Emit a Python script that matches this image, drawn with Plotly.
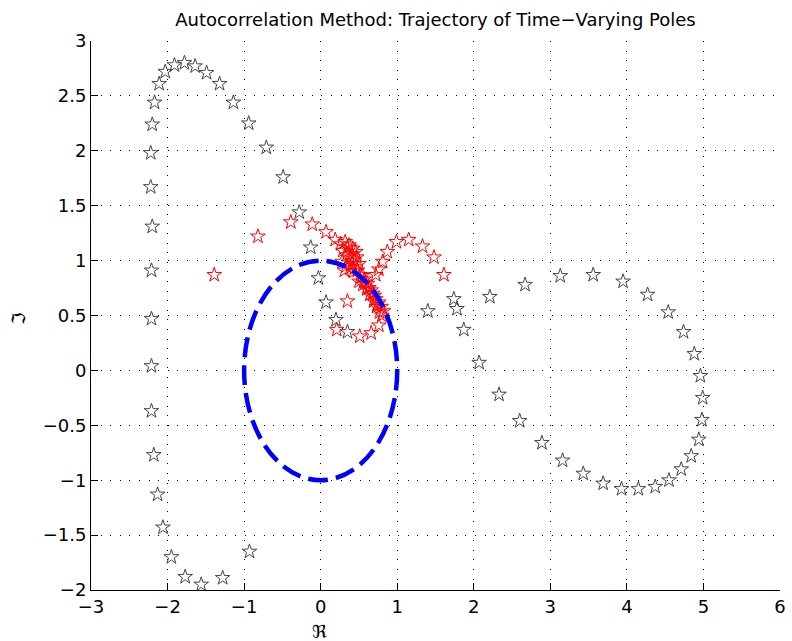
import plotly.graph_objects as go

# Pole locations of the first (long) trajectory: real and imaginary parts
gray_re = [-0.93, -1.28, -1.56, -1.77, -1.95, -2.06, -2.13, -2.18, -2.21, -2.21,
           -2.21, -2.21, -2.20, -2.22, -2.22, -2.20, -2.17, -2.11, -2.03, -1.91,
           -1.78, -1.64, -1.49, -1.32, -1.14, -0.94, -0.71, -0.49, -0.28, -0.13,
           -0.03, 0.07, 0.20, 0.35,
           1.40, 1.74, 1.78, 1.87, 2.07, 2.33, 2.60, 2.89, 3.16, 3.43,
           3.69, 3.93, 4.15, 4.37, 4.55, 4.71, 4.84, 4.94, 4.98, 4.99,
           4.96, 4.88, 4.74, 4.54, 4.27, 3.95, 3.56, 3.13, 2.67, 2.21]
gray_im = [-1.65, -1.89, -1.95, -1.88, -1.70, -1.43, -1.13, -0.77, -0.37, 0.04,
           0.47, 0.91, 1.31, 1.67, 1.98, 2.24, 2.44, 2.61, 2.72, 2.78,
           2.80, 2.77, 2.71, 2.61, 2.44, 2.25, 2.03, 1.76, 1.44, 1.12,
           0.84, 0.62, 0.46, 0.35,
           0.54, 0.65, 0.56, 0.37, 0.07, -0.22, -0.46, -0.66, -0.82, -0.94,
           -1.03, -1.08, -1.08, -1.06, -1.00, -0.90, -0.78, -0.63, -0.45, -0.25,
           -0.05, 0.15, 0.35, 0.53, 0.69, 0.81, 0.87, 0.86, 0.78, 0.67]

# Pole locations of the second trajectory
red_re = [-1.39, -0.82, -0.39, -0.11, 0.07, 0.19,
          0.26, 0.32, 0.37, 0.42, 0.46, 0.29, 0.34, 0.39, 0.44, 0.50,
          0.28, 0.33, 0.31, 0.38, 0.43, 0.48,
          0.35, 0.41, 0.47, 0.46, 0.41,
          0.52, 0.57, 0.50, 0.55, 0.61, 0.60, 0.66, 0.64, 0.70, 0.69,
          0.54, 0.58, 0.63, 0.68, 0.72, 0.74,
          0.76, 0.73, 0.79, 0.77, 0.82,
          0.80, 0.76, 0.66, 0.51, 0.21, 0.35,
          0.72, 0.76, 0.81, 0.87, 0.99, 1.15, 1.33, 1.48, 1.61]
red_im = [0.87, 1.22, 1.35, 1.33, 1.26, 1.19,
          1.15, 1.17, 1.14, 1.11, 1.08, 1.09, 1.05, 1.02, 1.00, 0.97,
          0.99, 0.95, 0.91, 0.93, 0.90, 0.91,
          1.12, 1.06, 1.03, 0.94, 0.97,
          0.87, 0.83, 0.81, 0.78, 0.79, 0.74, 0.73, 0.69, 0.68, 0.63,
          0.86, 0.80, 0.75, 0.70, 0.65, 0.60,
          0.62, 0.58, 0.58, 0.53, 0.54,
          0.50, 0.41, 0.34, 0.31, 0.37, 0.63,
          0.87, 0.92, 0.99, 1.08, 1.17, 1.19, 1.13, 1.03, 0.87]

x_range = [-3, 6]
y_range = [-2, 3]

font_family = "DejaVu Sans"

fig = go.Figure()

fig.add_trace(go.Scatter(
    x=gray_re, y=gray_im, mode="markers", cliponaxis=False,
    marker=dict(symbol="star-open", size=11, color="#454545",
                line=dict(width=1, color="#454545")),
    showlegend=False,
))

fig.add_trace(go.Scatter(
    x=red_re, y=red_im, mode="markers", cliponaxis=False,
    marker=dict(symbol="star-open", size=11, color="#ff0000",
                line=dict(width=1, color="#ff0000")),
    showlegend=False,
))

# unit circle
fig.add_shape(
    type="circle", xref="x", yref="y", x0=-1, y0=-1, x1=1, y1=1,
    line=dict(color="#0000ff", width=4.5, dash="20px,8px"),
    layer="above",
)

axis_common = dict(
    ticks="inside", ticklen=7, tickwidth=1, tickcolor="black",
    showline=True, linecolor="black", linewidth=1, mirror=False,
    showgrid=True, gridcolor="black", gridwidth=1, griddash="1px,8.6px",
    zeroline=False,
    tickfont=dict(family=font_family, size=18, color="black"),
)

fig.update_xaxes(range=x_range, tickmode="linear", tick0=-3, dtick=1, **axis_common)
fig.update_yaxes(range=y_range, tickmode="linear", tick0=-2, dtick=0.5, **axis_common)

fig.add_annotation(
    text="\u211c", xref="paper", yref="paper", x=0.331, y=-0.075,
    showarrow=False, font=dict(family=font_family, size=18, color="black"),
    xanchor="center", yanchor="middle",
)
fig.add_annotation(
    text="\u2111", xref="paper", yref="paper", x=-0.105, y=0.495,
    showarrow=False, textangle=-90,
    font=dict(family=font_family, size=18, color="black"),
    xanchor="center", yanchor="middle",
)

fig.update_layout(
    width=792, height=641,
    margin=dict(l=91, r=6, t=41, b=51),
    paper_bgcolor="white", plot_bgcolor="white",
    title=dict(
        text="Autocorrelation Method: Trajectory of Time\u2212Varying Poles",
        x=0.5, xref="paper", xanchor="center",
        y=1 - 20 / 641, yref="container", yanchor="middle",
        font=dict(family=font_family, size=18, color="black"),
    ),
)

fig.write_html("out.html")
